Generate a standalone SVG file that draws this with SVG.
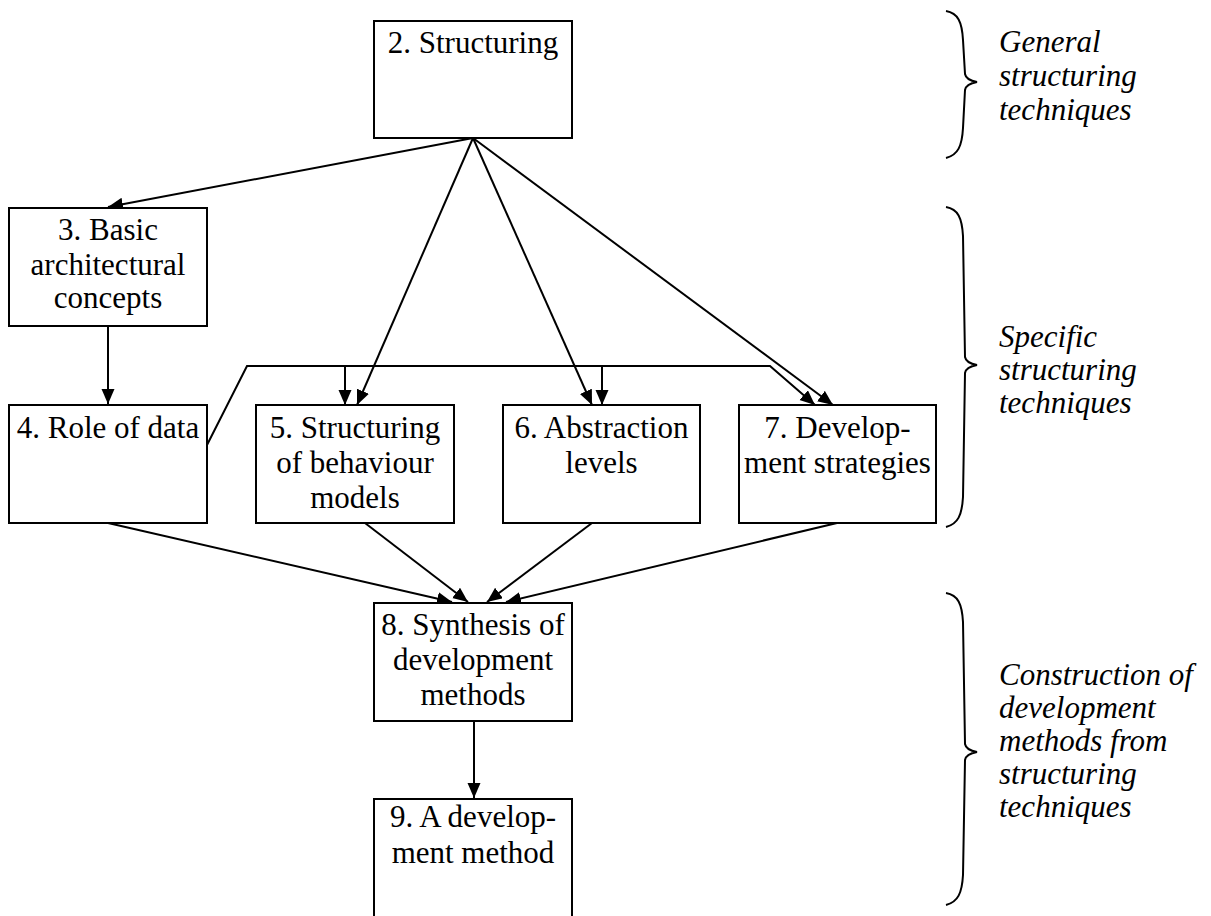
<svg xmlns="http://www.w3.org/2000/svg" width="1211" height="916" viewBox="0 0 1211 916">
  <style>
    .box { fill: #fff; stroke: #000; stroke-width: 2; }
    .lbl { font-family: "Liberation Serif", "Times New Roman", serif; font-size: 31px; fill: #000; text-anchor: middle; }
    .side { font-family: "Liberation Serif", "Times New Roman", serif; font-size: 31px; font-style: italic; fill: #000; }
    .edge { fill: none; stroke: #000; stroke-width: 2; }
    .brace { fill: none; stroke: #000; stroke-width: 2; }
  </style>
  <defs>
    <marker id="arrow" markerUnits="userSpaceOnUse" markerWidth="16" markerHeight="14" refX="15" refY="6.5" orient="auto">
      <path d="M0,0 L15,6.5 L0,13 z" fill="#000"/>
    </marker>
  </defs>
  <rect width="1211" height="916" fill="#fff"/>

  <!-- connectors -->
  <g id="connectors" class="edge">
    <line x1="473" y1="138" x2="108" y2="207" marker-end="url(#arrow)"/>
    <line x1="473" y1="138" x2="357" y2="405" marker-end="url(#arrow)"/>
    <line x1="473" y1="138" x2="592" y2="405" marker-end="url(#arrow)"/>
    <line x1="473" y1="138" x2="833" y2="405" marker-end="url(#arrow)"/>
    <line x1="108" y1="326" x2="108" y2="404" marker-end="url(#arrow)"/>
    <polyline points="207,445 247,366 770,366 815,405" marker-end="url(#arrow)"/>
    <line x1="345" y1="366" x2="345" y2="405" marker-end="url(#arrow)"/>
    <line x1="602" y1="366" x2="602" y2="405" marker-end="url(#arrow)"/>
    <line x1="108" y1="523" x2="452" y2="602" marker-end="url(#arrow)"/>
    <line x1="365" y1="523" x2="468" y2="602" marker-end="url(#arrow)"/>
    <line x1="592" y1="523" x2="487" y2="602" marker-end="url(#arrow)"/>
    <line x1="837" y1="523" x2="506" y2="602" marker-end="url(#arrow)"/>
    <line x1="474" y1="721" x2="474" y2="798" marker-end="url(#arrow)"/>
  </g>

  <!-- nodes -->
  <g id="n2">
    <rect class="box" x="374" y="21" width="198" height="117"/>
    <text class="lbl" x="473" y="53">2. Structuring</text>
  </g>
  <g id="n3">
    <rect class="box" x="9" y="208" width="198" height="118"/>
    <text class="lbl" x="108" y="240">3. Basic</text>
    <text class="lbl" x="108" y="274.5">architectural</text>
    <text class="lbl" x="108" y="308">concepts</text>
  </g>
  <g id="n4">
    <rect class="box" x="9" y="405" width="198" height="118"/>
    <text class="lbl" x="108" y="438">4. Role of data</text>
  </g>
  <g id="n5">
    <rect class="box" x="256" y="405" width="198" height="118"/>
    <text class="lbl" x="355" y="438">5. Structuring</text>
    <text class="lbl" x="355" y="473">of behaviour</text>
    <text class="lbl" x="355" y="508">models</text>
  </g>
  <g id="n6">
    <rect class="box" x="503" y="405" width="197" height="118"/>
    <text class="lbl" x="601.5" y="438">6. Abstraction</text>
    <text class="lbl" x="601.5" y="473">levels</text>
  </g>
  <g id="n7">
    <rect class="box" x="739" y="405" width="197" height="118"/>
    <text class="lbl" x="837.5" y="438">7. Develop-</text>
    <text class="lbl" x="837.5" y="473">ment strategies</text>
  </g>
  <g id="n8">
    <rect class="box" x="374" y="603" width="198" height="118"/>
    <text class="lbl" x="473" y="635">8. Synthesis of</text>
    <text class="lbl" x="473" y="670">development</text>
    <text class="lbl" x="473" y="705">methods</text>
  </g>
  <g id="n9">
    <rect class="box" x="374" y="799" width="198" height="140"/>
    <text class="lbl" x="473" y="827">9. A develop-</text>
    <text class="lbl" x="473" y="863">ment method</text>
  </g>

  <!-- braces and group captions -->
  <g id="group-general">
    <path class="brace" d="M946,11 C958,13 962,22 963,40 L965,74 Q966,80 977,82 Q966,84 965,90 L963,128 C962,146 958,155 946,158"/>
    <text class="side" x="999" y="52">General</text>
    <text class="side" x="999" y="86">structuring</text>
    <text class="side" x="999" y="120">techniques</text>
  </g>
  <g id="group-specific">
    <path class="brace" d="M946,207 C958,209 962,218 963,236 L965,357 Q966,363 977,365 Q966,367 965,373 L963,497 C962,515 958,524 946,527"/>
    <text class="side" x="999" y="347">Specific</text>
    <text class="side" x="999" y="380">structuring</text>
    <text class="side" x="999" y="413">techniques</text>
  </g>
  <g id="group-construction">
    <path class="brace" d="M946,593 C958,595 962,604 963,622 L965,744 Q966,750 977,752 Q966,754 965,760 L963,875 C962,893 958,902 946,905"/>
    <text class="side" x="999" y="685">Construction of</text>
    <text class="side" x="999" y="718">development</text>
    <text class="side" x="999" y="751">methods from</text>
    <text class="side" x="999" y="784">structuring</text>
    <text class="side" x="999" y="817">techniques</text>
  </g>
</svg>
